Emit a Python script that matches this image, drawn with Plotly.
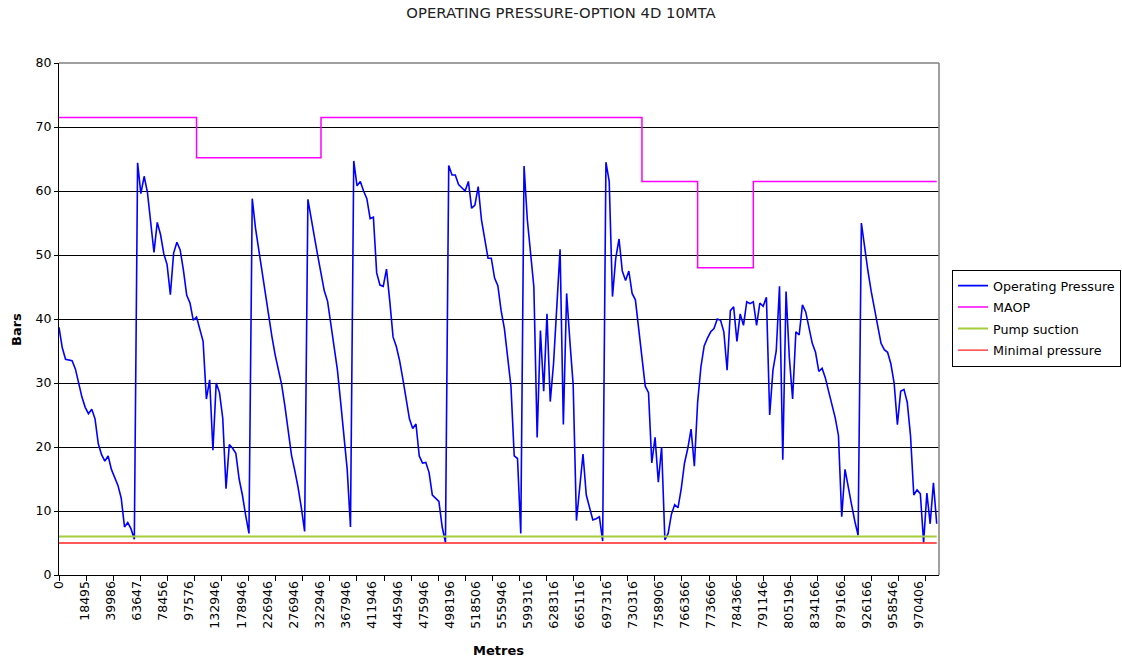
import plotly.graph_objects as go

# ---------------- data ----------------
metres_labels = ['0', '18495', '39986', '63647', '78456', '97576', '132946', '178946', '226946',
                 '276946', '322946', '367946', '411946', '445946', '475946', '498196', '518506',
                 '555946', '599316', '628316', '665116', '697316', '730316', '758906', '766366',
                 '773666', '784366', '791146', '805196', '834166', '879166', '926166', '958546',
                 '970406']

operating_pressure = [
    38.7, 35.5, 33.7, 33.6, 33.5, 32.2, 30.1, 27.8, 26.2, 25.2,
    25.9, 24.4, 20.5, 18.8, 17.8, 18.6, 16.5, 15.3, 14.0, 12.0,
    7.5, 8.2, 7.2, 5.6, 64.4, 59.6, 62.3, 59.8, 54.6, 50.4,
    55.1, 53.2, 50.2, 48.5, 43.8, 50.3, 52.0, 50.8, 47.6, 43.7,
    42.5, 39.8, 40.3, 38.5, 36.5, 27.5, 30.5, 19.5, 30.0, 28.5,
    24.5, 13.5, 20.4, 19.8, 19.0, 15.0, 12.5, 9.3, 6.5, 58.8,
    54.2, 50.8, 47.4, 44.0, 40.1, 37.3, 34.4, 32.1, 29.7, 26.3,
    22.8, 18.7, 16.3, 13.7, 10.5, 6.8, 58.7, 56.0, 52.8, 49.9,
    46.9, 44.4, 42.8, 39.2, 35.8, 32.1, 27.0, 21.5, 16.5, 7.5,
    64.7, 60.8, 61.5, 60.0, 58.8, 55.7, 55.9, 47.2, 45.3, 45.1,
    47.8, 42.8, 37.2, 35.7, 33.5, 30.6, 27.5, 24.4, 22.9, 23.6,
    18.6, 17.5, 17.6, 16.0, 12.5, 12.0, 11.5, 7.5, 5.1, 64.0,
    62.5, 62.5, 61.0, 60.5, 60.0, 61.5, 57.3, 57.8, 60.7, 55.5,
    52.3, 49.5, 49.5, 46.4, 45.2, 41.3, 38.5, 33.5, 29.5, 18.6,
    18.2, 6.5, 63.9, 55.5, 50.0, 45.0, 21.5, 38.2, 28.7, 40.8,
    27.1, 33.0, 41.9, 50.9, 23.5, 44.0, 36.5, 29.7, 8.5, 14.0,
    18.9, 12.5, 10.5, 8.6, 8.8, 9.1, 5.3, 64.5, 61.5, 43.5,
    49.5, 52.5, 47.5, 46.0, 47.5, 44.0, 43.0, 38.5, 33.8, 29.5,
    28.5, 17.5, 21.5, 14.5, 20.0, 5.5, 6.5, 9.5, 11.0, 10.5,
    13.5, 17.5, 19.8, 22.8, 17.0, 27.0, 32.5, 35.8, 37.0, 38.0,
    38.5, 40.0, 39.8, 38.0, 32.0, 41.3, 41.9, 36.5, 40.8, 39.0,
    42.7, 42.4, 42.7, 39.0, 42.5, 42.0, 43.4, 25.0, 32.0, 35.0,
    45.1, 18.0, 44.3, 34.0, 27.5, 38.0, 37.5, 42.2, 41.1, 38.5,
    36.2, 34.8, 31.8, 32.3, 30.8, 28.7, 26.6, 24.6, 21.8, 9.1,
    16.5, 13.5, 11.0, 8.4, 6.2, 55.0, 51.0, 47.5, 44.3, 41.5,
    38.5, 36.2, 35.2, 34.8, 33.0, 30.0, 23.5, 28.7, 29.0, 27.0,
    21.8, 12.5, 13.3, 12.7, 5.1, 12.8, 8.0, 14.4, 8.0,
]

# MAOP levels and the category index at which each level begins
maop_levels = [71.5, 65.2, 71.5, 61.5, 48.0, 61.5]
maop_start = [0, 42, 80, 178, 195, 212]

pump_suction_level = 6.0
minimal_pressure_level = 5.0

# ---------------- build series ----------------
n = len(operating_pressure)
idx = list(range(n))

maop = []
for i in idx:
    lvl = maop_levels[0]
    for s, v in zip(maop_start, maop_levels):
        if i >= s:
            lvl = v
    maop.append(lvl)

pump_suction = [pump_suction_level] * n
minimal_pressure = [minimal_pressure_level] * n

LABEL_STEP = 7.96   # categories between labels
TICK_STEP = 8.27    # categories between tick marks
XMAX = 268.7

fig = go.Figure()
fig.add_trace(go.Scatter(x=idx, y=operating_pressure, mode='lines', name='Operating Pressure',
                         legendgroup='g1', line=dict(color='#0000ff', width=1.6)))
fig.add_trace(go.Scatter(x=idx, y=maop, mode='lines', name='MAOP', line_shape='hv',
                         legendgroup='g2', line=dict(color='#ff00ff', width=1.5)))
fig.add_trace(go.Scatter(x=idx, y=pump_suction, mode='lines', name='Pump suction',
                         legendgroup='g3', line=dict(color='#a6cc3c', width=2)))
fig.add_trace(go.Scatter(x=idx, y=minimal_pressure, mode='lines', name='Minimal pressure',
                         legendgroup='g4', line=dict(color='#ff2020', width=1.3)))
# helper trace for the tick-mark axis
fig.add_trace(go.Scatter(x=[0], y=[None], xaxis='x2', mode='lines', showlegend=False,
                         hoverinfo='skip'))

font_family = 'DejaVu Sans'

fig.update_layout(
    width=1122, height=661,
    margin=dict(l=59, r=183, t=63, b=86, pad=0, autoexpand=False),
    paper_bgcolor='white', plot_bgcolor='white',
    font=dict(family=font_family, color='#000000'),
    title=dict(text='OPERATING PRESSURE-OPTION 4D 10MTA', x=0.5, xref='container',
               xanchor='center', y=1 - 13 / 661, yref='container', yanchor='middle',
               font=dict(family=font_family, size=14.8, color='#222222')),
    xaxis=dict(range=[0, XMAX], tickmode='array',
               tickvals=[k * LABEL_STEP for k in range(len(metres_labels))],
               ticktext=metres_labels, tickangle=-90, tickfont=dict(size=12.5),
               showgrid=False, zeroline=False, showline=True, linecolor='black',
               linewidth=1, ticks='', ticklen=0),
    xaxis2=dict(range=[0, XMAX], overlaying='x', anchor='y', side='bottom',
                tickmode='array', tickvals=[k * TICK_STEP for k in range(33)],
                ticks='outside', ticklen=5, tickcolor='black', tickwidth=1,
                showticklabels=False, showgrid=False, zeroline=False, showline=False),
    yaxis=dict(range=[0, 80], tick0=0, dtick=10, showgrid=True, gridcolor='black',
               gridwidth=1, zeroline=False, showline=True, linecolor='black', linewidth=1,
               ticks='outside', ticklen=4, tickcolor='black', tickfont=dict(size=12.5)),
    legend=dict(x=1.0148, y=0.596, xanchor='left', yanchor='top', bgcolor='white',
                bordercolor='black', borderwidth=1, font=dict(size=12.7),
                tracegroupgap=2, itemwidth=30),
    shapes=[
        dict(type='line', xref='paper', yref='paper', x0=0, x1=1, y0=1, y1=1,
             line=dict(color='#808080', width=1.5), layer='above'),
        dict(type='line', xref='paper', yref='paper', x0=1, x1=1, y0=0, y1=1,
             line=dict(color='#808080', width=1.5), layer='above'),
    ],
    annotations=[
        dict(text='<b>Bars</b>', xref='paper', yref='paper', x=(16 - 59) / 880,
             y=(575 - 330) / 512, textangle=-90, showarrow=False,
             font=dict(size=13, family=font_family), xanchor='center', yanchor='middle'),
        dict(text='<b>Metres</b>', xref='paper', yref='paper', x=(498 - 59) / 880,
             y=(575 - 650) / 512, showarrow=False,
             font=dict(size=13, family=font_family), xanchor='center', yanchor='middle'),
    ],
)

fig.write_html('out.html')
